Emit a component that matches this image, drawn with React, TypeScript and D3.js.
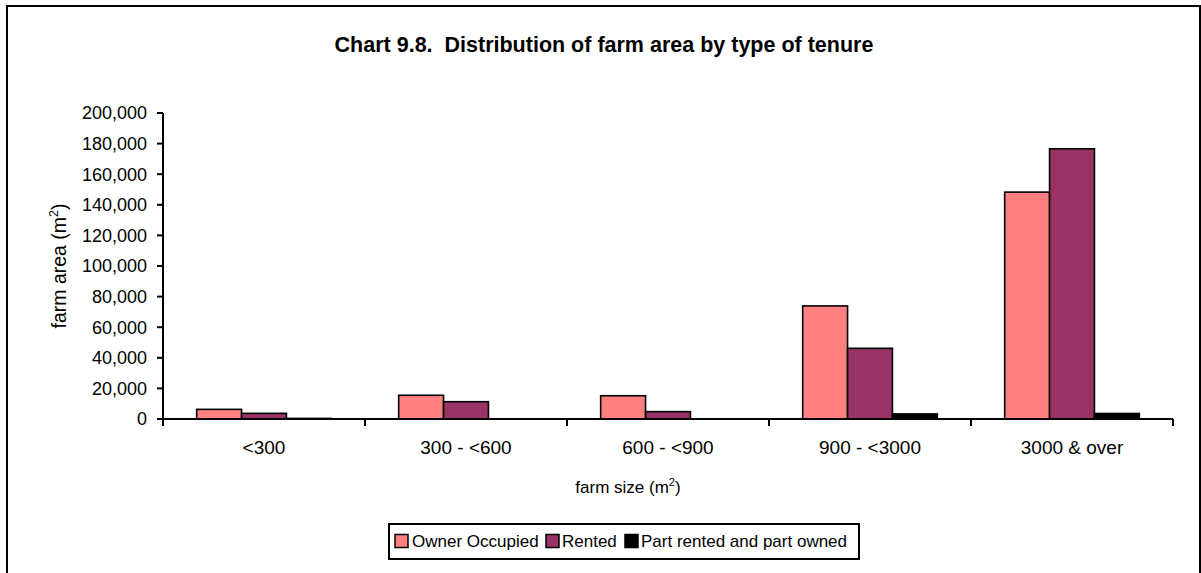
import React from "react";
import * as d3 from "d3";

const categories = ["<300", "300 - <600", "600 - <900", "900 - <3000", "3000 & over"];
const seriesNames = ["Owner Occupied", "Rented", "Part rented and part owned"];
const ownerOccupied = [6300, 15500, 15200, 73900, 148300];
const rented = [3700, 11300, 4800, 46200, 176600];
const partRented = [400, 100, 50, 3300, 3600];
const seriesColors = ["#FF8080", "#993366", "#000000"];
const yTicks = [0, 20000, 40000, 60000, 80000, 100000, 120000, 140000, 160000, 180000, 200000];

const W = 1201;
const H = 573;
const FONT = "'Liberation Sans', Arial, sans-serif";

export default function App() {
  const seriesValues = [ownerOccupied, rented, partRented];
  const left = 163, right = 1173, top = 113, bottom = 419;
  const x = d3.scaleBand<string>().domain(categories).range([left, right]).padding(0);
  const xs = d3
    .scaleBand<number>()
    .domain([0, 1, 2])
    .range([0, x.bandwidth()])
    .paddingInner(0)
    .paddingOuter(0.75);
  const y = d3.scaleLinear().domain([0, 200000]).range([bottom, top]);
  const fmt = d3.format(",");

  const legendItems = [
    { sx: 395, tx: 412 },
    { sx: 546, tx: 562 },
    { sx: 625, tx: 641 },
  ];

  return (
    <svg
      width={W}
      height={H}
      style={{ position: "absolute", left: 0, top: 0, display: "block" }}
      fontFamily={FONT}
    >
      <rect x={0} y={0} width={W} height={H} fill="#fff" />
      <rect x={7} y={6} width={1193} height={H + 10} fill="none" stroke="#000" strokeWidth={2} />
      <text
        x={604}
        y={52}
        textAnchor="middle"
        fontSize={21.5}
        fontWeight="bold"
        fill="#000"
        style={{ whiteSpace: "pre" }}
      >
        {"Chart 9.8.  Distribution of farm area by type of tenure"}
      </text>

      {/* bars */}
      {categories.map((c, ci) =>
        seriesValues.map((vals, si) => {
          const v = vals[ci];
          const x0 = (x(c) ?? 0) + (xs(si) ?? 0);
          const y0 = y(v);
          return (
            <rect
              key={`${ci}-${si}`}
              x={x0}
              y={y0}
              width={xs.bandwidth()}
              height={Math.max(0, bottom - y0)}
              fill={seriesColors[si]}
              stroke="#000"
              strokeWidth={1.6}
            />
          );
        })
      )}

      {/* y axis */}
      <line x1={left} x2={left} y1={top} y2={bottom} stroke="#000" strokeWidth={2} />
      {yTicks.map((t) => (
        <g key={t}>
          <line x1={left - 6} x2={left} y1={y(t)} y2={y(t)} stroke="#000" strokeWidth={2} />
          <text x={147} y={y(t)} dy="0.36em" textAnchor="end" fontSize={18} fill="#000">
            {fmt(t)}
          </text>
        </g>
      ))}

      {/* x axis */}
      <line x1={left} x2={right} y1={bottom} y2={bottom} stroke="#000" strokeWidth={2} />
      {[...categories.map((c) => x(c) ?? 0), right].map((px, i) => (
        <line key={i} x1={px} x2={px} y1={bottom} y2={bottom + 7} stroke="#000" strokeWidth={2} />
      ))}
      {categories.map((c) => (
        <text
          key={c}
          x={(x(c) ?? 0) + x.bandwidth() / 2}
          y={454}
          textAnchor="middle"
          fontSize={19}
          fill="#000"
        >
          {c}
        </text>
      ))}

      {/* axis titles */}
      <text x={628} y={493} textAnchor="middle" fontSize={17} fill="#000">
        farm size (m<tspan dy={-7} fontSize={11}>2</tspan>
        <tspan dy={7}>)</tspan>
      </text>
      <text
        transform="translate(66,266) rotate(-90)"
        textAnchor="middle"
        fontSize={19.5}
        fill="#000"
      >
        farm area (m<tspan dy={-8} fontSize={12.5}>2</tspan>
        <tspan dy={8}>)</tspan>
      </text>

      {/* legend */}
      <rect x={389} y={524} width={470} height={35} fill="#fff" stroke="#000" strokeWidth={2} />
      {seriesNames.map((n, i) => (
        <g key={n}>
          <rect
            x={legendItems[i].sx}
            y={534.5}
            width={13}
            height={13}
            fill={seriesColors[i]}
            stroke="#000"
            strokeWidth={1.5}
          />
          <text x={legendItems[i].tx} y={547} fontSize={17} fill="#000">
            {n}
          </text>
        </g>
      ))}
    </svg>
  );
}
